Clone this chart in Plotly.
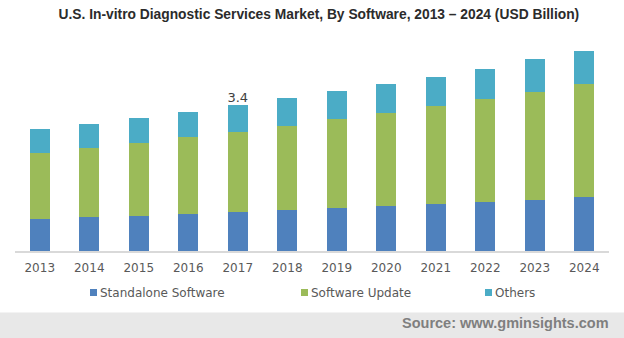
import plotly.graph_objects as go

years = ["2013", "2014", "2015", "2016", "2017", "2018",
         "2019", "2020", "2021", "2022", "2023", "2024"]
standalone = [0.75, 0.79, 0.82, 0.86, 0.91, 0.95, 1.00, 1.05, 1.09, 1.14, 1.19, 1.26]
update = [1.54, 1.61, 1.70, 1.79, 1.86, 1.96, 2.07, 2.17, 2.28, 2.40, 2.52, 2.63]
others = [0.54, 0.56, 0.58, 0.58, 0.63, 0.65, 0.65, 0.68, 0.68, 0.70, 0.75, 0.77]

series = [
    ("Standalone Software", standalone, "#4F81BD"),
    ("Software Update", update, "#9BBB59"),
    ("Others", others, "#4BACC6"),
]

W, H = 624, 338
ML, MR, MT, MB = 15, 15, 40, 87
PW, PH = W - ML - MR, H - MT - MB

fig = go.Figure()
for name, vals, color in series:
    fig.add_trace(go.Bar(x=years, y=vals, name=name, marker_color=color,
                         marker_line_width=0, showlegend=False))

TICK_FONT = dict(family="DejaVu Sans", size=12, color="#595959")

fig.update_layout(
    width=W, height=H,
    margin=dict(l=ML, r=MR, t=MT, b=MB, autoexpand=False),
    barmode="stack", bargap=0.6,
    plot_bgcolor="white", paper_bgcolor="white",
    title=dict(text="<b>U.S. In-vitro Diagnostic Services Market, By Software, 2013 – 2024 (USD Billion)</b>",
               font=dict(family="Liberation Sans", size=13.8, color="#2b2b2b"),
               x=0.511, xanchor="center", y=1 - 14.5 / H, yanchor="middle"),
    xaxis=dict(type="category", categoryorder="array", categoryarray=years,
               range=[-0.5, len(years) - 0.5], automargin=False,
               showline=True, linecolor="#d9d9d9", linewidth=2, ticks="",
               ticklabelstandoff=5, tickfont=TICK_FONT, showgrid=False),
    yaxis=dict(range=[0, PH / 42.94], visible=False, showgrid=False),
)

# value label over the 2017 stack
i17 = years.index("2017")
total17 = standalone[i17] + update[i17] + others[i17]
fig.add_trace(go.Scatter(x=[years[i17]], y=[total17], mode="text",
                         text=[f"{total17:.1f}"], textposition="top center",
                         textfont=dict(family="DejaVu Sans", size=13, color="#404040"),
                         showlegend=False, hoverinfo="skip"))

def px_x(px):
    return (px - ML) / PW

def px_y(py):
    return (H - MB - py) / PH

# legend: colored squares and labels
legend_items = [(90, "Standalone Software", "#4F81BD"),
                (301, "Software Update", "#9BBB59"),
                (485, "Others", "#4BACC6")]
LY = 292.5
for lx, name, color in legend_items:
    fig.add_shape(type="rect", xref="paper", yref="paper",
                  x0=px_x(lx), x1=px_x(lx + 7), y0=px_y(LY + 3.5), y1=px_y(LY - 3.5),
                  fillcolor=color, line_width=0)
    fig.add_annotation(xref="paper", yref="paper", x=px_x(lx + 8), y=px_y(LY),
                       text=name, showarrow=False, xanchor="left", yanchor="middle",
                       font=TICK_FONT)

# source band at the bottom
fig.add_shape(type="rect", xref="paper", yref="paper",
              x0=px_x(0), x1=px_x(W), y0=px_y(H), y1=px_y(312.5),
              fillcolor="#e8e8e8", line_width=0, layer="below")
fig.add_annotation(xref="paper", yref="paper", x=px_x(611), y=px_y(323),
                   text="<b>Source: www.gminsights.com</b>", showarrow=False,
                   xanchor="right", yanchor="middle",
                   font=dict(family="Liberation Sans", size=14.5, color="#7f7f7f"))

fig.write_html("out.html")
